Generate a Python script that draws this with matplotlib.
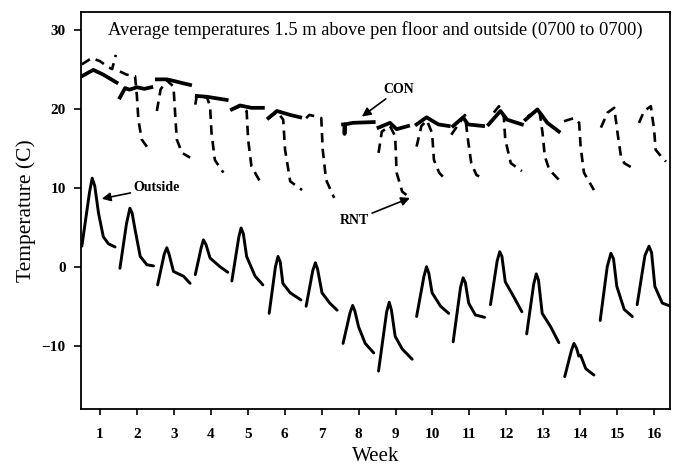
import matplotlib.pyplot as plt

plt.rcParams['font.family'] = ['Liberation Serif', 'DejaVu Serif']

# outside air, one day per week (week, deg C)
outside = [
    ([0.51, 0.72, 0.79, 0.86, 0.96, 1.09, 1.23, 1.41], [2.6, 9.5, 11.2, 10.2, 6.8, 3.8, 2.9, 2.5]),
    ([1.54, 1.72, 1.81, 1.87, 1.95, 2.09, 2.27, 2.45], [-0.2, 5.5, 7.4, 6.8, 4.7, 1.3, 0.25, 0.1]),
    ([2.56, 2.74, 2.81, 2.87, 2.99, 3.26, 3.44], [-2.3, 1.6, 2.4, 1.6, -0.6, -1.2, -2.1]),
    ([3.58, 3.74, 3.8, 3.87, 3.98, 4.25, 4.46], [-1.0, 2.4, 3.4, 2.8, 1.1, 0.0, -0.7]),
    ([4.57, 4.76, 4.82, 4.88, 4.97, 5.2, 5.41], [-1.8, 3.8, 4.9, 4.2, 1.3, -1.2, -2.3]),
    ([5.58, 5.75, 5.82, 5.88, 5.95, 6.15, 6.44], [-5.9, 0.0, 1.3, 0.6, -2.1, -3.3, -4.2]),
    ([6.58, 6.76, 6.83, 6.89, 7.01, 7.22, 7.42], [-5.0, -0.5, 0.5, -0.3, -3.3, -4.6, -5.5]),
    ([7.58, 7.77, 7.84, 7.9, 8.0, 8.18, 8.41], [-9.7, -5.8, -4.9, -5.6, -7.6, -9.7, -10.9]),
    ([8.54, 8.76, 8.83, 8.89, 8.99, 9.18, 9.45], [-13.2, -5.7, -4.5, -5.5, -8.8, -10.4, -11.7]),
    ([9.57, 9.77, 9.84, 9.9, 9.99, 10.22, 10.44], [-6.3, -1.2, 0.0, -0.8, -3.3, -5.0, -5.9]),
    ([10.56, 10.76, 10.83, 10.89, 10.98, 11.16, 11.41], [-9.5, -2.6, -1.4, -2.0, -4.6, -6.1, -6.4]),
    ([11.57, 11.75, 11.82, 11.88, 11.97, 12.2, 12.42], [-4.8, 0.7, 1.9, 1.3, -1.9, -3.8, -5.7]),
    ([12.55, 12.74, 12.81, 12.87, 12.97, 13.2, 13.42], [-8.5, -2.2, -0.9, -1.7, -5.9, -7.6, -9.6]),
    ([13.58, 13.76, 13.83, 13.9, 13.96, 14.01, 14.15, 14.37], [-13.9, -10.6, -9.7, -10.3, -11.3, -11.2, -12.9, -13.7]),
    ([14.54, 14.73, 14.83, 14.9, 14.99, 15.19, 15.41], [-6.8, 0.0, 1.7, 1.0, -2.5, -5.4, -6.3]),
    ([15.54, 15.75, 15.86, 15.93, 16.02, 16.22, 16.45], [-4.8, 1.4, 2.6, 1.8, -2.5, -4.6, -5.0]),
]

# control pen
con = [
    ([0.51, 0.82, 1.09, 1.45], [24.1, 24.9, 24.3, 23.3]),
    ([1.54, 1.68, 1.8, 2.0, 2.2, 2.39], [21.4, 22.6, 22.4, 22.7, 22.5, 22.7]),
    ([2.54, 2.81, 3.0, 3.17, 3.44], [23.7, 23.7, 23.5, 23.3, 23.0]),
    ([3.62, 3.89, 4.16, 4.43], [21.6, 21.5, 21.3, 21.1]),
    ([4.57, 4.79, 5.1, 5.41], [19.9, 20.4, 20.1, 20.1]),
    ([5.56, 5.79, 6.15, 6.42], [18.8, 19.7, 19.2, 18.9]),
    ([7.58, 7.62, 7.62, 7.63, 7.84, 8.41], [18.0, 18.0, 16.8, 18.0, 18.2, 18.3]),
    ([8.54, 8.85, 9.03, 9.34], [17.6, 18.2, 17.4, 17.8]),
    ([9.57, 9.84, 10.16, 10.44], [18.0, 18.9, 18.0, 17.8]),
    ([10.56, 10.83, 10.96, 11.37], [17.8, 18.9, 18.0, 17.8]),
    ([11.52, 11.84, 12.02, 12.42], [18.0, 19.7, 18.6, 18.0]),
    ([12.52, 12.84, 13.11, 13.42], [18.6, 19.9, 18.2, 17.1]),
]

# RNT pen
rnt = [
    ([0.51, 0.78, 1.0, 1.24, 1.33, 1.43], [25.6, 26.4, 26.0, 25.2, 25.0, 26.8]),
    ([1.54, 1.72, 1.95, 2.0, 2.04, 2.13, 2.36], [24.7, 24.3, 24.1, 21.6, 18.6, 16.1, 14.6]),
    ([2.54, 2.64, 2.8, 2.99, 3.04, 3.08, 3.22, 3.44], [19.7, 22.4, 23.6, 22.8, 19.0, 16.1, 14.4, 13.8]),
    ([3.58, 3.62, 3.9, 3.98, 4.02, 4.11, 4.34], [20.5, 21.6, 21.4, 20.3, 16.9, 13.5, 11.9]),
    ([4.57, 4.8, 4.97, 5.01, 5.1, 5.33], [19.9, 20.3, 19.7, 16.1, 12.7, 10.8]),
    ([5.56, 5.8, 5.96, 6.01, 6.15, 6.47], [18.8, 19.6, 18.6, 14.8, 10.8, 9.7]),
    ([6.58, 6.67, 6.85, 6.99, 7.03, 7.12, 7.34], [18.8, 19.2, 19.0, 18.8, 14.8, 11.0, 8.7]),
    ([8.54, 8.63, 8.85, 8.99, 9.03, 9.18, 9.4], [14.4, 17.1, 17.8, 16.5, 11.9, 9.5, 8.7]),
    ([9.57, 9.7, 9.85, 9.99, 10.04, 10.18, 10.36], [15.2, 17.8, 18.5, 16.9, 13.5, 11.9, 11.0]),
    ([10.51, 10.88, 10.96, 11.05, 11.19, 11.37], [16.7, 19.2, 16.1, 13.1, 11.6, 11.2]),
    ([11.66, 11.8, 11.93, 11.97, 12.12, 12.42], [19.5, 20.3, 19.0, 16.1, 13.1, 12.1]),
    ([12.57, 12.89, 12.98, 13.04, 13.16, 13.42], [19.0, 19.9, 16.9, 14.0, 12.3, 11.0]),
    ([13.56, 13.83, 13.97, 14.01, 14.1, 14.37], [18.4, 18.8, 18.2, 15.2, 11.9, 9.7]),
    ([14.56, 14.74, 14.92, 15.01, 15.1, 15.19, 15.41], [17.6, 19.5, 20.1, 16.9, 14.0, 13.1, 12.5]),
    ([15.59, 15.73, 15.91, 16.0, 16.04, 16.18, 16.32], [18.2, 19.7, 20.3, 17.3, 14.8, 14.0, 13.3]),
]

weeks = list(range(1, 17))
yticks = [-10, 0, 10, 20, 30]

fig = plt.figure(figsize=(6.77, 4.68), dpi=100)
ax = fig.add_axes([0.1196, 0.126, 0.8701, 0.848])

for x, y in outside:
    ax.plot(x, y, color='black', lw=2.1, solid_capstyle='round', solid_joinstyle='round')
for x, y in rnt:
    ax.plot(x, y, color='black', lw=1.9, linestyle=(0, (3.6, 2.4)))
for x, y in con:
    ax.plot(x, y, color='black', lw=2.7, solid_joinstyle='round')

ax.set_xlim(0.486, 16.43)
ax.set_ylim(-18.0, 32.2)
ax.set_xticks(weeks)
ax.set_yticks(yticks)
ax.tick_params(axis='x', direction='out', length=4, width=1.2, pad=10, labelsize=11)
ax.tick_params(axis='y', direction='out', length=5, width=1.2, pad=6, labelsize=11)
for lab in ax.get_xticklabels() + ax.get_yticklabels():
    lab.set_fontweight('bold')
for s in ax.spines.values():
    s.set_linewidth(1.3)

ax.set_xlabel('Week', fontsize=15, labelpad=4)
ax.set_ylabel('Temperature (C)', fontsize=15.5, labelpad=4)

ax.text(0.5, 0.955, 'Average temperatures 1.5 m above pen floor and outside (0700 to 0700)',
        transform=ax.transAxes, ha='center', va='center', fontsize=13.3)

arrow = dict(arrowstyle='-|>', color='black', lw=1.2, mutation_scale=13, shrinkA=0, shrinkB=0)
ax.annotate('Outside', xy=(1.05, 8.6), xytext=(1.9, 10.0), ha='left', va='center',
            fontsize=10, fontweight='bold', arrowprops=arrow)
ax.annotate('CON', xy=(8.09, 19.0), xytext=(8.66, 22.4), ha='left', va='center',
            fontsize=10, fontweight='bold', arrowprops=arrow)
ax.annotate('RNT', xy=(9.39, 8.7), xytext=(7.5, 5.9), ha='left', va='center',
            fontsize=10, fontweight='bold', arrowprops=arrow)

fig.savefig('out.png', dpi=100)
